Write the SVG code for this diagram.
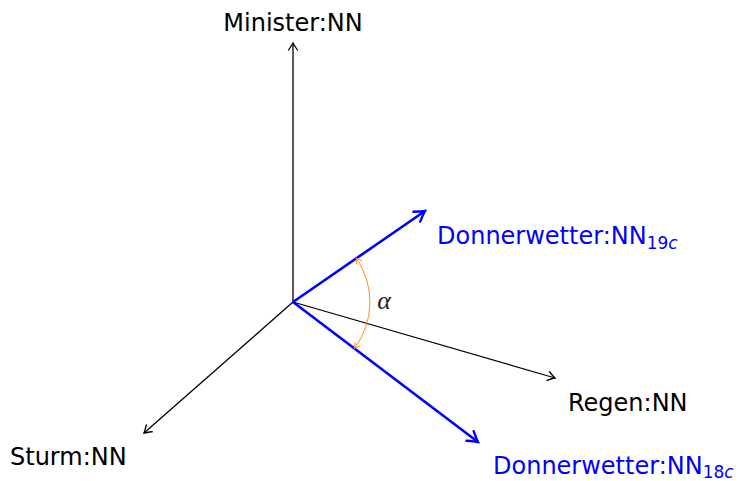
<svg xmlns="http://www.w3.org/2000/svg" width="743" height="481" viewBox="0 0 743 481">
<defs>
<marker id="ak" markerUnits="userSpaceOnUse" markerWidth="20" markerHeight="20" viewBox="-10 -10 20 20" refX="0" refY="0" orient="auto">
<path d="M -7 -4.5 Q -2 -1 0 0 Q -2 1 -7 4.5" fill="none" stroke="#000" stroke-width="1.3" stroke-linecap="round"/>
</marker>
<marker id="ab" markerUnits="userSpaceOnUse" markerWidth="24" markerHeight="24" viewBox="-12 -12 24 24" refX="0" refY="0" orient="auto">
<path d="M -10 -6 Q -3 -1.5 0 0 Q -3 1.5 -10 6" fill="none" stroke="#0000ff" stroke-width="2.4" stroke-linecap="round"/>
</marker>
<marker id="ao" markerUnits="userSpaceOnUse" markerWidth="14" markerHeight="14" viewBox="-7 -7 14 14" refX="0" refY="0" orient="auto-start-reverse">
<path d="M -5 -3 Q -1.5 -0.8 0 0 Q -1.5 0.8 -5 3" fill="none" stroke="#ff8c1a" stroke-width="0.9" stroke-linecap="round"/>
</marker>
</defs>
<style>
.ax{stroke:#000;stroke-width:1.3;fill:none;marker-end:url(#ak)}
.bl{stroke:#0000ff;stroke-width:2.6;fill:none;marker-end:url(#ab)}
.lbl{font-family:"DejaVu Sans","Liberation Sans",sans-serif;font-size:24px;fill:#000}
.blue{fill:#0000ff}
.sub{font-size:17px}
</style>
<g id="connectors">
<line class="ax" x1="293" y1="302" x2="293" y2="43"/>
<line class="ax" x1="293" y1="302" x2="144" y2="433"/>
<line class="ax" x1="293" y1="302" x2="555" y2="378"/>
<line class="bl" x1="293" y1="302" x2="425" y2="211"/>
<line class="bl" x1="293" y1="302" x2="478" y2="442"/>
<path d="M 356.3 258.2 A 77 77 0 0 1 354.5 348.3" fill="none" stroke="#ff8c1a" stroke-width="1" marker-start="url(#ao)" marker-end="url(#ao)"/>
</g>
<g id="minister"><text class="lbl" x="293" y="31" text-anchor="middle">Minister:NN</text></g>
<g id="sturm"><text class="lbl" x="10" y="465">Sturm:NN</text></g>
<g id="regen"><text class="lbl" x="568" y="411">Regen:NN</text></g>
<g id="dw19"><text class="lbl blue" x="437" y="244">Donnerwetter:NN<tspan class="sub" dy="5">19</tspan><tspan class="sub" font-style="italic">c</tspan></text></g>
<g id="dw18"><text class="lbl blue" x="493" y="474">Donnerwetter:NN<tspan class="sub" dy="4">18</tspan><tspan class="sub" font-style="italic">c</tspan></text></g>
<g id="alpha"><text x="384" y="309" text-anchor="middle" font-family="'Liberation Serif',serif" font-style="italic" font-size="26" fill="#222">α</text></g>
</svg>
